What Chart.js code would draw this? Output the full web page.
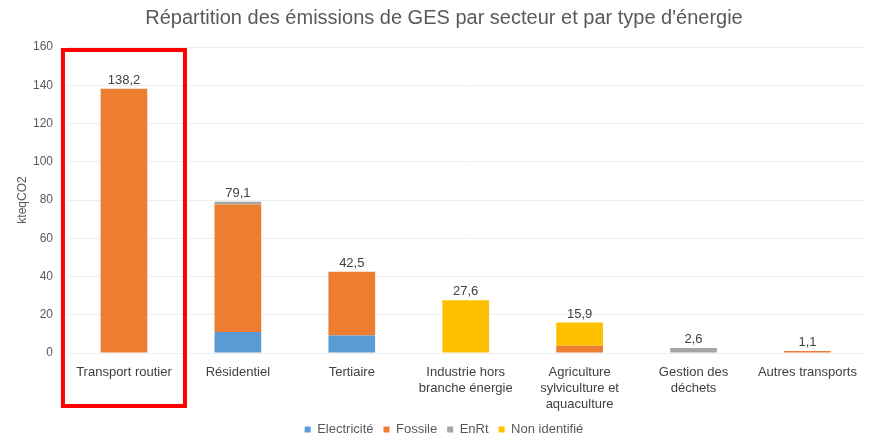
<!DOCTYPE html>
<html><head><meta charset="utf-8">
<script src="https://cdn.jsdelivr.net/npm/chart.js@4/dist/chart.umd.min.js"></script>
<style>html,body{margin:0;padding:0;background:#fff}#wrap{width:869px;height:436px}</style>
</head><body><div id="wrap"><canvas id="c"></canvas></div>
<script>
const categories = ["Transport routier","Résidentiel","Tertiaire",["Industrie hors","branche énergie"],["Agriculture","sylviculture et","aquaculture"],["Gestion des","déchets"],"Autres transports"];
const electricite = [0, 11.0, 9.2, 0, 0, 0, 0];
const fossile = [138.2, 66.6, 33.3, 0, 3.8, 0, 1.1];
const enrt = [0, 1.5, 0, 0, 0, 2.6, 0];
const nonIdentifie = [0, 0, 0, 27.6, 12.1, 0, 0];
const totals = ["138,2","79,1","42,5","27,6","15,9","2,6","1,1"];
const yTicks = [0,20,40,60,80,100,120,140,160];

const FONT = "'Liberation Sans', Arial, sans-serif";
const totalLabels = {
  id:'totalLabels',
  afterDatasetsDraw(chart){
    const ctx = chart.ctx;
    ctx.save();
    ctx.font = "13px " + FONT;
    ctx.fillStyle = "#404040";
    ctx.textAlign = "center";
    ctx.textBaseline = "bottom";
    categories.forEach((c,i)=>{
      let top = Infinity, x = 0;
      chart.data.datasets.forEach((d,di)=>{
        const el = chart.getDatasetMeta(di).data[i];
        if (d.data[i] > 0 && el.y < top){ top = el.y; x = el.x; }
      });
      ctx.fillText(totals[i], x, top - 2);
    });
    ctx.restore();
  }
};
const highlight = {
  id:'highlight',
  afterDraw(chart){
    const ctx = chart.ctx, xs = chart.scales.x, a = chart.chartArea;
    const cx = xs.getPixelForValue(0);
    ctx.save();
    ctx.strokeStyle = "#ff0000";
    ctx.lineWidth = 4;
    ctx.strokeRect(cx - 61, a.top + 3, 122, a.bottom - a.top + 50);
    ctx.restore();
  }
};

new Chart(document.getElementById('c'), {
  type:'bar',
  data:{
    labels: categories,
    datasets:[
      {label:'Electricité', data: electricite, backgroundColor:'#5B9BD5'},
      {label:'Fossile', data: fossile, backgroundColor:'#ED7D31'},
      {label:'EnRt', data: enrt, backgroundColor:'#A5A5A5'},
      {label:'Non identifié', data: nonIdentifie, backgroundColor:'#FFC000'}
    ]
  },
  options:{
    responsive:true, maintainAspectRatio:false, animation:false,
    devicePixelRatio:1,
    layout:{padding:{left:20,right:1,top:0,bottom:-10}},
    datasets:{bar:{categoryPercentage:1, barPercentage:0.41, borderSkipped:false}},
    plugins:{
      title:{display:true, text:"Répartition des émissions de GES par secteur et par type d'énergie",
        color:'#595959', font:{family:FONT,size:20,weight:'normal'}, padding:{top:6,bottom:17}},
      legend:{position:'bottom', labels:{color:'#595959', font:{family:FONT,size:13}, usePointStyle:true, pointStyle:'rect', boxWidth:6, boxHeight:6, padding:10}},
      tooltip:{enabled:false}
    },
    scales:{
      x:{stacked:true, grid:{display:false, drawTicks:false}, border:{display:false},
        afterFit(s){ s.height = 60; },
        ticks:{color:'#404040', font:{family:FONT,size:13}, padding:12, maxRotation:0, autoSkip:false}},
      y:{stacked:true, min:0, max:160, border:{display:false},
        afterBuildTicks(s){ s.ticks = yTicks.map(v=>({value:v})); },
        afterFit(s){ s.width = 47; },
        grid:{color:'#eeeeee', drawTicks:false},
        ticks:{color:'#595959', font:{family:FONT,size:12}, padding:14},
        title:{display:true, text:'kteqCO2', color:'#595959', font:{family:FONT,size:12}, padding:{top:-5,bottom:0}}
      }
    }
  },
  plugins:[totalLabels, highlight]
});
</script></body></html>
